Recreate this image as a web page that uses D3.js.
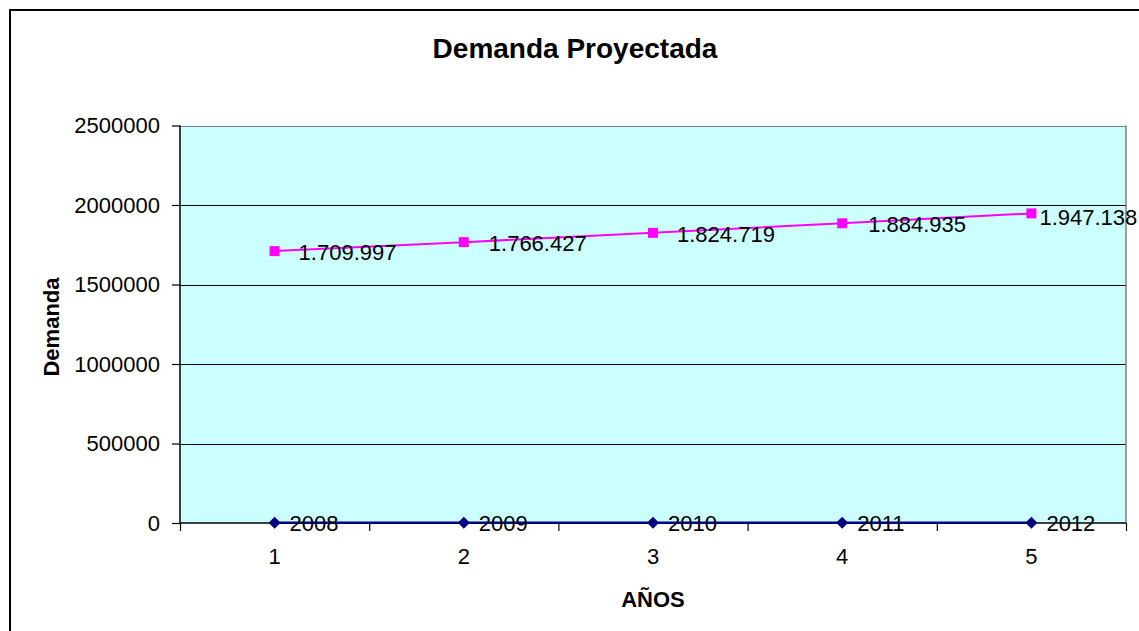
<!DOCTYPE html>
<html>
<head>
<meta charset="utf-8">
<script src="https://cdn.jsdelivr.net/npm/d3@7/dist/d3.min.js"></script>
<style>
  html, body { margin: 0; padding: 0; background: #fff; }
  svg { display: block; font-family: Arial, "Liberation Sans", sans-serif; }
</style>
</head>
<body>
<svg id="chart" width="1139" height="631"></svg>
<script>
// Categories (years 1..5) and the two plotted series
const categories = [1, 2, 3, 4, 5];
const yearValues = [2008, 2009, 2010, 2011, 2012];
const demandValues = [1709997, 1766427, 1824719, 1884935, 1947138];
const yTickValues = [0, 500000, 1000000, 1500000, 2000000, 2500000];

// Horizontal / vertical nudges of the demand data labels
const demandLabelDx = [24, 25, 24, 26, 8];
const demandLabelDy = [9, 9, 9, 9, 12];

const svg = d3.select("#chart");
const plot = { left: 180, right: 1126, top: 125.5, bottom: 523 };

// Chart frame
svg.append("rect")
  .attr("x", 10).attr("y", 10)
  .attr("width", 1200).attr("height", 700)
  .attr("fill", "#fff").attr("stroke", "#000").attr("stroke-width", 2);

const x = d3.scaleBand().domain(categories).range([plot.left, plot.right]);
const xEdges = d3.scaleLinear().domain([0.5, 5.5]).range([plot.left, plot.right]);
const y = d3.scaleLinear().domain([0, 2500000]).range([plot.bottom, plot.top]);
const cx = d => x(d) + x.bandwidth() / 2;

// Plot area background
svg.append("rect")
  .attr("x", plot.left).attr("y", plot.top)
  .attr("width", plot.right - plot.left).attr("height", plot.bottom - plot.top)
  .attr("fill", "#CCFFFF");

// Gridlines
svg.append("g").selectAll("line")
  .data(yTickValues.filter(v => v > 0))
  .join("line")
  .attr("x1", plot.left).attr("x2", plot.right)
  .attr("y1", d => Math.round(y(d)) + 0.5).attr("y2", d => Math.round(y(d)) + 0.5)
  .attr("stroke", d => d === 2500000 ? "#808080" : "#000")
  .attr("stroke-width", 1.2);

// Right border of plot area
svg.append("line")
  .attr("x1", plot.right).attr("x2", plot.right)
  .attr("y1", plot.top).attr("y2", plot.bottom)
  .attr("stroke", "#808080").attr("stroke-width", 1.5);

// Y axis
const yAxis = svg.append("g")
  .attr("transform", `translate(${plot.left},0)`)
  .call(d3.axisLeft(y).tickValues(yTickValues).tickFormat(d3.format("d")).tickSize(8).tickPadding(12));
yAxis.select(".domain").attr("stroke", "#000").attr("stroke-width", 1.5).attr("d", `M0,${plot.top}V${plot.bottom}`);
yAxis.selectAll(".tick line").attr("stroke", "#000").attr("stroke-width", 1.2);
yAxis.selectAll(".tick text").attr("font-size", 22).attr("fill", "#000").style("font-family", "Arial, 'Liberation Sans', sans-serif");

// X axis: tick marks between categories, labels at category centers
const xTicks = svg.append("g")
  .attr("transform", `translate(0,${plot.bottom})`)
  .call(d3.axisBottom(xEdges).tickValues([0.5, 1.5, 2.5, 3.5, 4.5, 5.5]).tickFormat("").tickSize(8));
xTicks.select(".domain").attr("stroke", "#000").attr("stroke-width", 1.5).attr("d", `M${plot.left},0H${plot.right}`);
xTicks.selectAll(".tick line").attr("stroke", "#000").attr("stroke-width", 1.2);

const xLabels = svg.append("g")
  .attr("transform", `translate(0,${plot.bottom})`)
  .call(d3.axisBottom(x).tickSize(0).tickPadding(25));
xLabels.select(".domain").remove();
xLabels.selectAll(".tick text").attr("font-size", 22).attr("fill", "#000").style("font-family", "Arial, 'Liberation Sans', sans-serif");

// Series: years (navy diamonds)
const yearData = categories.map((c, i) => ({ c, v: yearValues[i] }));
svg.append("path")
  .datum(yearData)
  .attr("fill", "none").attr("stroke", "#000080").attr("stroke-width", 2.5)
  .attr("d", d3.line().x(d => cx(d.c)).y(d => y(d.v)));
svg.append("g").selectAll("path")
  .data(yearData)
  .join("path")
  .attr("transform", d => `translate(${cx(d.c)},${y(d.v)}) rotate(45)`)
  .attr("d", d3.symbol(d3.symbolSquare, 72))
  .attr("fill", "#000080");

// Series: projected demand (magenta squares)
const demandData = categories.map((c, i) => ({ c, v: demandValues[i], i }));
svg.append("path")
  .datum(demandData)
  .attr("fill", "none").attr("stroke", "#FF00FF").attr("stroke-width", 2)
  .attr("d", d3.line().x(d => cx(d.c)).y(d => y(d.v)));
svg.append("g").selectAll("path")
  .data(demandData)
  .join("path")
  .attr("transform", d => `translate(${cx(d.c)},${y(d.v)})`)
  .attr("d", d3.symbol(d3.symbolSquare, 100))
  .attr("fill", "#FF00FF");

// Data labels
const fmtDemand = d3.formatLocale({ decimal: ",", thousands: ".", grouping: [3], currency: ["", ""] }).format(",d");
svg.append("g").selectAll("text")
  .data(demandData)
  .join("text")
  .attr("x", d => cx(d.c) + demandLabelDx[d.i])
  .attr("y", d => y(d.v) + demandLabelDy[d.i])
  .attr("font-size", 22).attr("fill", "#000")
  .text(d => fmtDemand(d.v));

svg.append("g").selectAll("text")
  .data(yearData)
  .join("text")
  .attr("x", d => cx(d.c) + 15)
  .attr("y", d => y(d.v) + 8)
  .attr("font-size", 22).attr("fill", "#000")
  .text(d => d.v);

// Titles
svg.append("text")
  .attr("x", 575).attr("y", 58)
  .attr("text-anchor", "middle")
  .attr("font-size", 28).attr("font-weight", "bold")
  .text("Demanda Proyectada");

svg.append("text")
  .attr("transform", "translate(59,327) rotate(-90)")
  .attr("text-anchor", "middle")
  .attr("font-size", 22).attr("font-weight", "bold")
  .text("Demanda");

svg.append("text")
  .attr("x", 653).attr("y", 607)
  .attr("text-anchor", "middle")
  .attr("font-size", 22).attr("font-weight", "bold")
  .text("AÑOS");
</script>
</body>
</html>
